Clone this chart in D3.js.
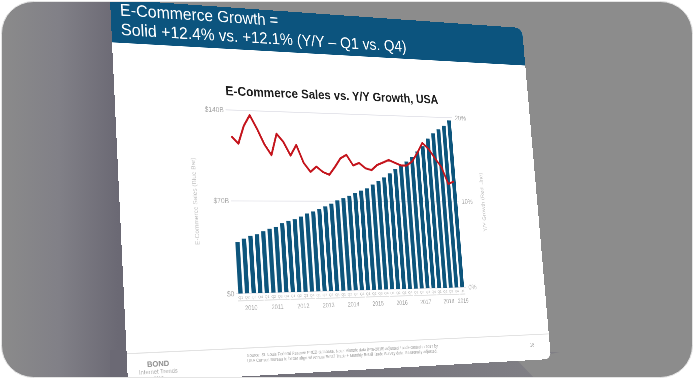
<!DOCTYPE html>
<html><head><meta charset="utf-8">
<script src="https://cdn.jsdelivr.net/npm/d3@7"></script>
<style>
html,body{margin:0;padding:0;width:694px;height:380px;overflow:hidden;background:#fff;}
#bg,#frame{position:absolute;left:0;top:0;}
#slide{position:absolute;left:0;top:0;width:960px;height:720px;transform-origin:0 0;}
#slide svg{display:block;}
text{font-family:"Liberation Sans",Arial,sans-serif;}
</style></head><body>
<svg id="bg" width="694" height="380"></svg>
<div id="slide"></div>
<svg id="frame" width="694" height="380"></svg>
<script>
// ---------- data ----------
const years = ["2010","2011","2012","2013","2014","2015","2016","2017","2018","2019"];
const quarters = ["Q1","Q2","Q3","Q4"];
const sales = [38.8,41.3,43.3,44.6,46.9,48.7,50.2,52.9,54.6,56.0,
               58.0,60.4,62.0,63.9,66.0,68.1,70.8,72.5,74.5,76.5,
               78.6,80.5,83.6,86.6,89.4,92.8,96.4,99.7,102.6,106.3,
               111.1,115.6,122.0,126.5,130.0,133.0,137.7];
const growth = [17.1,16.3,18.3,19.5,18.0,16.3,15.1,17.5,16.6,15.1,
                16.3,14.3,13.3,13.9,13.3,13.0,13.9,14.9,15.3,14.1,
                14.4,13.8,13.6,14.2,14.5,14.8,14.5,14.2,14.2,14.7,
                15.7,16.9,16.2,15.1,14.1,12.1,12.4];
const leftTicks = [0,70,140];
const leftTickLabels = ["$0","$70B","$140B"];
const rightTicks = [0,10,20];
const rightTickLabels = ["0%","10%","20%"];
const headerLines = ["E-Commerce Growth =","Solid +12.4% vs. +12.1% (Y/Y \u2013 Q1 vs. Q4)"];
const chartTitle = "E-Commerce Sales vs. Y/Y Growth, USA";
const leftAxisTitle = "E-Commerce Sales (Blue Bar)";
const rightAxisTitle = "Y/Y Growth (Red Line)";
const sourceLines = ["Source: St. Louis Federal Reserve FRED database. Note: Historic data (Pre-2018) adjusted / back-casted to 2017 by",
                     "USA Census Bureau to better align w/ Annual Retail Trade + Monthly Retail Trade Survey data. Seasonally adjusted."];
const pageNum = "18";

const categories = sales.map((d,i)=> years[Math.floor(i/4)] + " " + quarters[i%4]);

// ---------- background ----------
const bg = d3.select("#bg");
const defs = bg.append("defs");
const lg = defs.append("linearGradient").attr("id","lg").attr("gradientUnits","userSpaceOnUse")
  .attr("x1",0).attr("y1",0).attr("x2",118).attr("y2",0);
lg.append("stop").attr("offset",0).attr("stop-color","#8b8b8b");
lg.append("stop").attr("offset",0.5).attr("stop-color","#818087");
lg.append("stop").attr("offset",1).attr("stop-color","#6b6974");
const lg2 = defs.append("linearGradient").attr("id","lg2").attr("gradientUnits","userSpaceOnUse")
  .attr("x1",120).attr("y1",0).attr("x2",540).attr("y2",0);
lg2.append("stop").attr("offset",0).attr("stop-color","#6b6974");
lg2.append("stop").attr("offset",1).attr("stop-color","#807f85");
bg.append("rect").attr("width",694).attr("height",380).attr("fill","#8c8c8c");
bg.append("rect").attr("x",0).attr("y",0).attr("width",135).attr("height",380).attr("fill","url(#lg)");
bg.append("polygon").attr("points","110,350 560,352 518,361 537,381 110,381").attr("fill","url(#lg2)");

// ---------- slide (flat coordinates, projected with a homography) ----------
const W = 960, H = 720;
const corners = [[110,-1],[522,28],[551,359],[128,383]];
function homographyCSS(c, W, H){
  const [x0,y0]=c[0],[x1,y1]=c[1],[x2,y2]=c[2],[x3,y3]=c[3];
  const dx1=x1-x2, dx2=x3-x2, dx3=x0-x1+x2-x3;
  const dy1=y1-y2, dy2=y3-y2, dy3=y0-y1+y2-y3;
  const den = dx1*dy2 - dx2*dy1;
  const g = (dx3*dy2 - dx2*dy3)/den;
  const h = (dx1*dy3 - dx3*dy1)/den;
  const a = x1-x0+g*x1, b = x3-x0+h*x3, cc = x0;
  const d = y1-y0+g*y1, e = y3-y0+h*y3, f = y0;
  const m = [a/W, d/W, 0, g/W,  b/H, e/H, 0, h/H,  0,0,1,0,  cc, f, 0, 1];
  return "matrix3d(" + m.join(",") + ")";
}
d3.select("#slide").style("transform", homographyCSS(corners, W, H));

const svg = d3.select("#slide").append("svg").attr("width",W).attr("height",H);
svg.append("path").attr("d","M0,0 H940 Q960,0 960,20 V702 Q960,720 942,720 H14 Q0,720 0,706 Z").attr("fill","#ffffff");
svg.append("path").attr("d","M0,0 H940 Q960,0 960,20 V84 H0 Z").attr("fill","#0c547e");
svg.selectAll("text.hdr").data(headerLines).join("text").attr("class","hdr")
  .attr("x",19).attr("y",(d,i)=> i===0 ? 31 : 69)
  .attr("fill","#ffffff").attr("font-size",33).text(d=>d);

svg.append("text").attr("x",478).attr("y",177).attr("text-anchor","middle")
  .attr("font-size",26).attr("font-weight","bold").attr("fill","#1e1e1e").text(chartTitle);

// scales
const plotTop = 206, plotBase = 563;
const x = d3.scaleBand().domain(categories).range([233.5,753]).paddingInner(0.35).paddingOuter(0);
const yL = d3.scaleLinear().domain([0,140]).range([plotBase, plotTop]);
const yR = d3.scaleLinear().domain([0,20]).range([plotBase, plotTop]);

// gridlines
svg.append("g").selectAll("line").data(leftTicks).join("line")
  .attr("x1",229).attr("x2",757).attr("y1",d=>yL(d)).attr("y2",d=>yL(d))
  .attr("stroke","#dcdce4").attr("stroke-width",1.6);

// axes
const axL = svg.append("g").attr("transform","translate(225,0)")
  .call(d3.axisLeft(yL).tickValues(leftTicks).tickFormat((d,i)=>leftTickLabels[i]).tickSize(0).tickPadding(0));
const axR = svg.append("g").attr("transform","translate(764,0)")
  .call(d3.axisRight(yR).tickValues(rightTicks).tickFormat((d,i)=>rightTickLabels[i]).tickSize(0).tickPadding(0));
[axL,axR].forEach(a=>{
  a.select(".domain").remove();
  a.selectAll("text").attr("font-size",14).attr("fill","#ababab").attr("font-family","Liberation Sans, Arial, sans-serif");
});

// bars
svg.append("g").selectAll("rect").data(sales).join("rect")
  .attr("x",(d,i)=>x(categories[i])).attr("width",x.bandwidth())
  .attr("y",d=>yL(d)).attr("height",d=>plotBase-yL(d))
  .attr("fill","#0d557c");

// growth line
const line = d3.line().x((d,i)=>x(categories[i])+x.bandwidth()/2).y(d=>yR(d)).curve(d3.curveLinear);
svg.append("path").datum(growth).attr("d",line).attr("fill","none")
  .attr("stroke","#c4141c").attr("stroke-width",4.2).attr("stroke-linejoin","round");

// quarter labels
svg.append("g").selectAll("text").data(categories).join("text")
  .attr("x",d=>x(d)+x.bandwidth()/2).attr("y",573).attr("text-anchor","middle")
  .attr("font-size",7.5).attr("fill","#b4b4b4").text((d,i)=>quarters[i%4]);

// year groups
const yearGroups = years.map(y=>{
  const cs = categories.filter(c=>c.startsWith(y));
  return {year:y, x0:x(cs[0]), x1:x(cs[cs.length-1])+x.bandwidth()};
});
svg.append("g").selectAll("line").data(yearGroups).join("line")
  .attr("x1",d=>d.x0-1.5).attr("x2",d=>d.x1+1.5).attr("y1",577).attr("y2",577)
  .attr("stroke","#c4c4c4").attr("stroke-width",1.2);
svg.append("g").selectAll("text").data(yearGroups).join("text")
  .attr("x",d=>(d.x0+d.x1)/2).attr("y",595).attr("text-anchor","middle")
  .attr("font-size",12).attr("fill","#a8a8a8").text(d=>d.year);

// axis titles
svg.append("text").attr("transform","translate(158,385) rotate(-90)").attr("text-anchor","middle")
  .attr("font-size",12.5).attr("fill","#c2c2c2").text(leftAxisTitle);
svg.append("text").attr("transform","translate(822,385) rotate(-90)").attr("text-anchor","middle")
  .attr("font-size",12.5).attr("fill","#c2c2c2").text(rightAxisTitle);

// footer
svg.append("line").attr("x1",0).attr("x2",960).attr("y1",667).attr("y2",667)
  .attr("stroke","#e2e2e2").attr("stroke-width",2);
svg.selectAll("text.src").data(sourceLines).join("text").attr("class","src")
  .attr("x",244).attr("y",(d,i)=>684+i*10).attr("font-size",8.4).attr("fill","#a0a0a0").text(d=>d);
svg.append("text").attr("x",914).attr("y",692).attr("text-anchor","middle")
  .attr("font-size",10).attr("fill","#a0a0a0").text(pageNum);
svg.append("text").attr("x",61).attr("y",693).attr("text-anchor","middle")
  .attr("font-family","Liberation Serif, serif").attr("font-weight","bold")
  .attr("font-size",15).attr("fill","#8e8e8e").text("BOND");
svg.append("text").attr("x",61).attr("y",706).attr("text-anchor","middle")
  .attr("font-family","Liberation Serif, serif").attr("font-size",11.5).attr("fill","#a8a8a8").text("Internet Trends");
svg.append("text").attr("x",61).attr("y",717).attr("text-anchor","middle")
  .attr("font-family","Liberation Serif, serif").attr("font-size",9).attr("fill","#a8a8a8").text("2019");

// ---------- frame ----------
const fr = d3.select("#frame");
const r = 32, L = 1.5, T = 1.5, R = 692.5, B = 377.5;
const inner = `M${L+r},${T} H${R-r} A${r},${r} 0 0 1 ${R},${T+r} V${B-r} A${r},${r} 0 0 1 ${R-r},${B} H${L+r} A${r},${r} 0 0 1 ${L},${B-r} V${T+r} A${r},${r} 0 0 1 ${L+r},${T} Z`;
fr.append("path").attr("d","M0,0 H694 V380 H0 Z " + inner).attr("fill","#ffffff").attr("fill-rule","evenodd");
fr.append("path").attr("d",inner).attr("fill","none").attr("stroke","#e4e4e4").attr("stroke-width",1);
</script></body></html>
